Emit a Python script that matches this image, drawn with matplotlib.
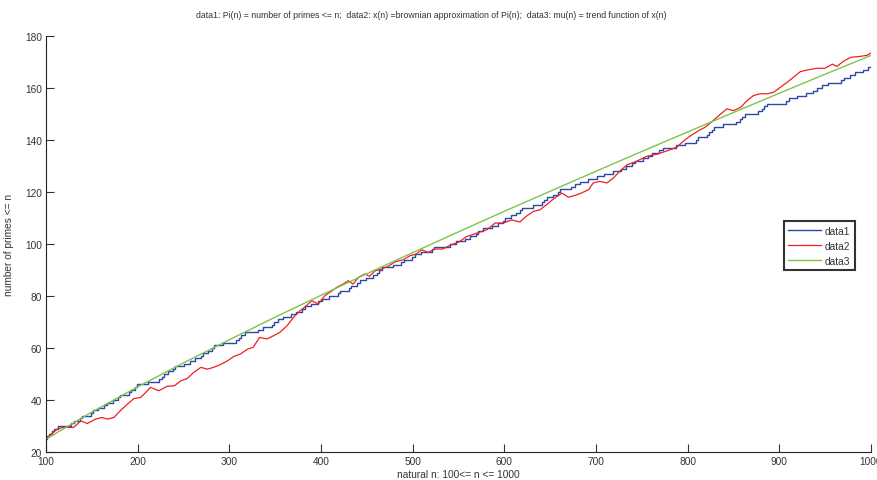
import matplotlib
matplotlib.use("Agg")
import matplotlib.pyplot as plt
from matplotlib import font_manager

# data1: primes between 100 and 1000 (Pi(100) = 25)
pi_start = 25
primes = [101, 103, 107, 109, 113, 127, 131, 137, 139, 149, 151, 157, 163, 167, 173, 179, 181, 191, 193, 197, 199,
          211, 223, 227, 229, 233, 239, 241, 251, 257, 263, 269, 271, 277, 281, 283, 293,
          307, 311, 313, 317, 331, 337, 347, 349, 353, 359, 367, 373, 379, 383, 389, 397,
          401, 409, 419, 421, 431, 433, 439, 443, 449, 457, 461, 463, 467, 479, 487, 491, 499,
          503, 509, 521, 523, 541, 547, 557, 563, 569, 571, 577, 587, 593, 599,
          601, 607, 613, 617, 619, 631, 641, 643, 647, 653, 659, 661, 673, 677, 683, 691,
          701, 709, 719, 727, 733, 739, 743, 751, 757, 761, 769, 773, 787, 797,
          809, 811, 821, 823, 827, 829, 839, 853, 857, 859, 863, 877, 881, 883, 887,
          907, 911, 919, 929, 937, 941, 947, 953, 967, 971, 977, 983, 991, 997]

# data2: brownian approximation
brown_x = [100, 106, 112, 118, 130, 138, 145, 154, 161, 167, 174, 181, 189, 196, 203, 207, 214, 223, 232, 240,
           247, 254, 261, 269, 276, 283, 291, 298, 305, 312, 320, 326, 333, 341, 348, 355, 363, 370, 377, 384,
           390, 397, 404, 412, 417, 424, 430, 435, 441, 448, 453, 459, 466, 473, 481, 490, 497, 504, 510, 517,
           524, 533, 541, 550, 559, 570, 581, 590, 599, 608, 617, 624, 632, 639, 646, 655, 663, 670, 677, 684,
           692, 697, 704, 712, 719, 726, 734, 744, 755, 767, 778, 788, 796, 803, 812, 819, 828, 836, 843, 850,
           858, 865, 872, 879, 887, 894, 899, 909, 916, 923, 930, 941, 950, 958, 963, 970, 978, 989, 996, 1000]
brown_y = [25.0, 27.0, 28.8, 29.5, 29.5, 32.0, 31.0, 32.7, 33.3, 32.7, 33.3, 35.9, 38.5, 40.6, 41.0, 42.3, 44.9, 43.6, 45.3, 45.5,
           47.4, 48.3, 50.6, 52.6, 51.9, 52.6, 53.8, 55.1, 56.8, 57.7, 59.6, 60.3, 64.1, 63.5, 64.7, 66.0, 68.6, 71.8, 74.3, 76.3,
           78.2, 76.9, 80.1, 82.0, 83.3, 84.6, 85.9, 84.6, 87.2, 88.5, 87.6, 89.7, 90.4, 91.4, 93.2, 94.0, 95.5, 96.2, 97.8, 96.8,
           98.1, 98.1, 99.6, 100.7, 102.9, 104.2, 105.5, 108.1, 108.1, 109.3, 108.5, 110.7, 112.6, 113.2, 115.1, 117.7, 119.6, 118.0, 118.7, 119.6,
           120.9, 123.5, 124.1, 123.5, 125.4, 128.0, 130.5, 131.8, 133.7, 134.6, 135.9, 137.2, 139.7, 141.6, 143.6, 144.9, 147.5, 150.0, 152.0, 151.3,
           152.6, 155.2, 157.1, 157.8, 157.8, 158.4, 159.7, 162.3, 164.3, 166.3, 166.9, 167.6, 167.6, 169.2, 168.3, 170.3, 171.8, 172.2, 172.6, 173.5]

# data3: trend function
trend_x = [100, 150, 200, 250, 300, 350, 400, 450, 500, 550, 600, 650, 700, 750, 800, 850, 900, 950, 1000]
trend_y = [25.0, 35.4, 45.1, 54.3, 63.2, 71.9, 80.3, 88.6, 96.7, 104.7, 112.6, 120.3, 128.0, 135.6, 143.1, 150.6, 158.0, 165.3, 172.5]

x_ticks = [100, 200, 300, 400, 500, 600, 700, 800, 900, 1000]
y_ticks = [20, 40, 60, 80, 100, 120, 140, 160, 180]

plt.rcParams['font.family'] = ['Liberation Sans', 'DejaVu Sans']

installed = {f.name for f in font_manager.fontManager.ttflist}
title_family = ['Liberation Sans Narrow', 'Liberation Sans'] if 'Liberation Sans Narrow' in installed else ['Liberation Sans']
title_size = 6.9 if 'Liberation Sans Narrow' in installed else 6.3

fig = plt.figure(figsize=(8.77, 4.81), dpi=100)
ax = fig.add_axes([0.0525, 0.058, 0.9405, 0.865])

step_x = [100] + primes + [1000]
step_y = [pi_start] + [pi_start + i + 1 for i in range(len(primes))] + [pi_start + len(primes)]

ax.step(step_x, step_y, where='post', color='#2b4aa6', lw=1.0, label='data1')
ax.plot(brown_x, brown_y, color='#ee2020', lw=0.9, label='data2')
ax.plot(trend_x, trend_y, color='#7cc44e', lw=1.0, label='data3')

ax.set_xlim(100, 1000)
ax.set_ylim(20, 180)
ax.set_xticks(x_ticks)
ax.set_yticks(y_ticks)
ax.tick_params(direction='in', length=6, width=0.8, labelsize=7.3, colors='#333333', pad=3)
for s in ['top', 'right']:
    ax.spines[s].set_visible(False)
for s in ['left', 'bottom']:
    ax.spines[s].set_linewidth(0.8)
    ax.spines[s].set_color('#222222')

fig.text(431 / 877, 1 - 15 / 481,
         'data1: Pi(n) = number of primes <= n;  data2: x(n) =brownian approximation of Pi(n);  data3: mu(n) = trend function of x(n)',
         fontsize=title_size, family=title_family, color='#333333', ha='center', va='center')
ax.set_xlabel('natural n: 100<= n <= 1000', fontsize=7.3, labelpad=2, color='#333333')
ax.set_ylabel('number of primes <= n', fontsize=7.3, labelpad=8, color='#333333')

leg = ax.legend(loc='upper left', bbox_to_anchor=(0.8945, 0.555), fontsize=7.3, frameon=True,
                fancybox=False, handlelength=3.2, borderpad=0.45, labelspacing=0.5, handletextpad=0.4,
                borderaxespad=0)
leg.get_frame().set_edgecolor('black')
leg.get_frame().set_linewidth(1.5)
for t in leg.get_texts():
    t.set_color('#333333')

fig.savefig('out.png', dpi=100)
